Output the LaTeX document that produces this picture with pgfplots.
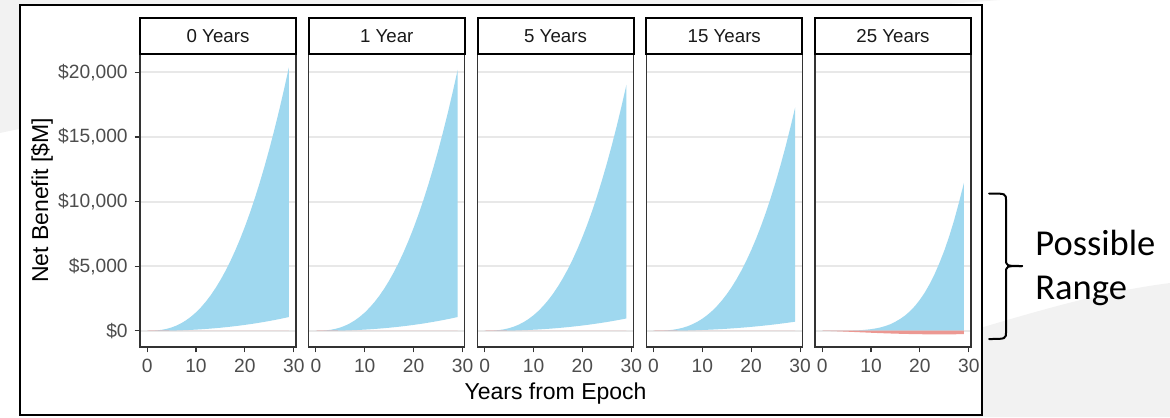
\documentclass[border=0pt]{standalone}
\usepackage{pgfplots}
\pgfplotsset{compat=1.18}
\usepackage{pgfplotstable}
\usepackage{fontspec}
\setmainfont{Liberation Sans}
\newfontfamily\calibri{Carlito}

\definecolor{bandpos}{RGB}{159,216,239}
\definecolor{bandneg}{RGB}{236,152,146}
\definecolor{gridgray}{RGB}{232,232,232}
\definecolor{axgray}{RGB}{51,51,51}
\definecolor{labgray}{RGB}{77,77,77}
\definecolor{slidegray}{RGB}{242,242,242}

% Net benefit range (lower / upper bound) by years from epoch, one table per delay
\pgfplotstableread{
x lo hi
0 0 0
1 -10 5
2 -13 25
3 -11 70
4 -5 144
5 4 252
6 16 397
7 30 584
8 46 815
9 65 1094
10 86 1424
11 110 1807
12 136 2247
13 165 2744
14 197 3304
15 231 3926
16 270 4613
17 310 5367
18 354 6192
19 401 7087
20 451 8057
21 505 9102
22 561 10224
23 622 11428
24 686 12712
25 753 14077
26 825 15526
27 899 17061
28 978 18686
29 1060 20400
}\tabA

\pgfplotstableread{
x lo hi
0 0 0
1 -10 4
2 -13 25
3 -11 70
4 -5 143
5 4 249
6 16 393
7 30 578
8 46 807
9 65 1083
10 86 1410
11 110 1790
12 136 2225
13 165 2717
14 197 3271
15 231 3887
16 270 4568
17 310 5315
18 354 6131
19 401 7018
20 451 7978
21 505 9013
22 561 10124
23 622 11316
24 686 12587
25 753 13939
26 825 15374
27 899 16894
28 978 18503
29 1060 20200
}\tabB

\pgfplotstableread{
x lo hi
0 0 0
1 -10 3
2 -13 18
3 -11 52
4 -6 110
5 2 197
6 13 317
7 26 473
8 41 669
9 58 909
10 77 1196
11 98 1532
12 122 1921
13 147 2365
14 176 2868
15 207 3432
16 241 4059
17 278 4751
18 317 5513
19 359 6345
20 404 7249
21 452 8230
22 503 9288
23 557 10426
24 615 11648
25 675 12952
26 739 14342
27 806 15818
28 876 17388
29 950 19050
}\tabC

\pgfplotstableread{
x lo hi
0 0 0
1 -10 2
2 -14 11
3 -13 34
4 -8 74
5 -2 138
6 6 227
7 16 347
8 28 501
9 41 693
10 55 925
11 71 1203
12 89 1528
13 108 1904
14 129 2335
15 152 2823
16 178 3371
17 205 3983
18 234 4661
19 265 5407
20 298 6226
21 333 7121
22 371 8093
23 411 9145
24 453 10282
25 498 11503
26 545 12812
27 594 14212
28 646 15709
29 700 17300
}\tabD

\pgfplotstableread{
x lo hi
0 0 0
1 -12 0
2 -25 0
3 -40 1
4 -56 3
5 -72 6
6 -89 13
7 -106 25
8 -123 45
9 -140 78
10 -157 120
11 -173 180
12 -188 260
13 -202 370
14 -215 510
15 -227 700
16 -238 920
17 -248 1190
18 -257 1520
19 -265 1920
20 -271 2400
21 -276 2960
22 -280 3620
23 -282 4380
24 -283 5250
25 -282 6220
26 -280 7320
27 -276 8560
28 -270 9950
29 -262 11450
}\tabE

\pgfplotsset{
  facet/.style={
    width=78pt, height=146.5pt, scale only axis, anchor=south west,
    xmin=-1.45, xmax=30.45, ymin=-1261.5, ymax=21431.5,
    xtick={0,10,20,30}, xticklabels={0,10,20,30},
    ytick={0,5000,10000,15000,20000}, yticklabels={},
    tick align=outside, xtick pos=bottom, ytick pos=left,
    major tick length=2.65pt,
    every tick/.style={axgray, line width=0.55pt},
    axis line style={axgray, line width=0.6pt},
    ymajorgrids, grid style={gridgray, line width=1pt},
    ticklabel style={font=\fontsize{9.6}{11}\selectfont, text=labgray},
    stack plots=y,
  },
  inner facet/.style={ytick style={draw=none}, major tick length=0pt,
    xtick style={draw=axgray}, xticklabel style={yshift=-2.65pt}},
}

% one facet: #1 left edge, #2 table, #3 strip text, #4 extra axis options
% stacked: negative part of the range (red), gap up to the positive lower
% bound (unfilled), then the positive band up to the upper bound (blue)
\newcommand\facet[4]{%
  \begin{axis}[facet, at={(#1pt,-173.5pt)}, name=ax, #4]
    \addplot[fill=bandneg, draw=none] table[x=x, y expr={min(\thisrow{lo},0)}]{#2} \closedcycle;
    \addplot[draw=none] table[x=x, y expr={max(\thisrow{lo},0)-min(\thisrow{lo},0)}]{#2};
    \addplot[fill=bandpos, draw=none] table[x=x, y expr={\thisrow{hi}-max(\thisrow{lo},0)}]{#2} \closedcycle;
  \end{axis}
  \draw[black, line width=1pt, fill=white] (ax.north west) rectangle ([yshift=18pt]ax.north east);
  \node[font=\fontsize{9.35}{11}\selectfont, text=black!90] at ([yshift=9pt]ax.north) {#3};
}

\begin{document}
\begin{tikzpicture}
  \useasboundingbox (0,0) rectangle (585pt,-208.5pt);
  % slide background shapes
  \fill[slidegray] (0,0) -- (500pt,0) .. controls (300pt,-15pt) and (100pt,-45pt) .. (0pt,-66.5pt) -- cycle;
  \fill[slidegray] (470pt,-170pt) .. controls (520pt,-155pt) and (550pt,-146pt) .. (585pt,-141.5pt)
        -- (585pt,-208.5pt) -- (470pt,-208.5pt) -- cycle;
  % chart frame
  \fill[white] (10pt,-2.5pt) rectangle (491pt,-207.5pt);

  \facet{70}{\tabA}{0 Years}{yticklabels={{\$0},{\$5,000},{\$10,000},{\$15,000},{\$20,000}}}
  \facet{154.375}{\tabB}{1 Year}{ytick style={draw=none}}
  \facet{238.75}{\tabC}{5 Years}{ytick style={draw=none}}
  \facet{323.125}{\tabD}{15 Years}{ytick style={draw=none}}
  \facet{407.5}{\tabE}{25 Years}{ytick style={draw=none}}

  \node[rotate=90, font=\fontsize{11.5}{13}\selectfont] at (21pt,-100.25pt) {Net Benefit [\$M]};
  \node[anchor=base, font=\fontsize{11.5}{13}\selectfont] at (277.75pt,-199.5pt) {Years from Epoch};

  \draw[black, line width=0.75pt] (10pt,-2.5pt) rectangle (491pt,-207.5pt);

  % brace and annotation
  \draw[black, line width=1pt, line cap=round]
    (494.5pt,-96.75pt) .. controls (503pt,-96.75pt) .. (503pt,-100.5pt) -- (503pt,-129.5pt)
    .. controls (503pt,-133pt) .. (511pt,-133pt);
  \draw[black, line width=1pt, line cap=round]
    (511pt,-133pt) .. controls (503pt,-133pt) .. (503pt,-136.5pt) -- (503pt,-165.75pt)
    .. controls (503pt,-169.5pt) .. (494.5pt,-169.5pt);
  \node[anchor=base west, inner sep=0pt, font=\calibri\fontsize{18.25}{22}\selectfont] at (517.5pt,-127.5pt) {Possible};
  \node[anchor=base west, inner sep=0pt, font=\calibri\fontsize{18.25}{22}\selectfont] at (517.5pt,-149.5pt) {Range};
\end{tikzpicture}
\end{document}
